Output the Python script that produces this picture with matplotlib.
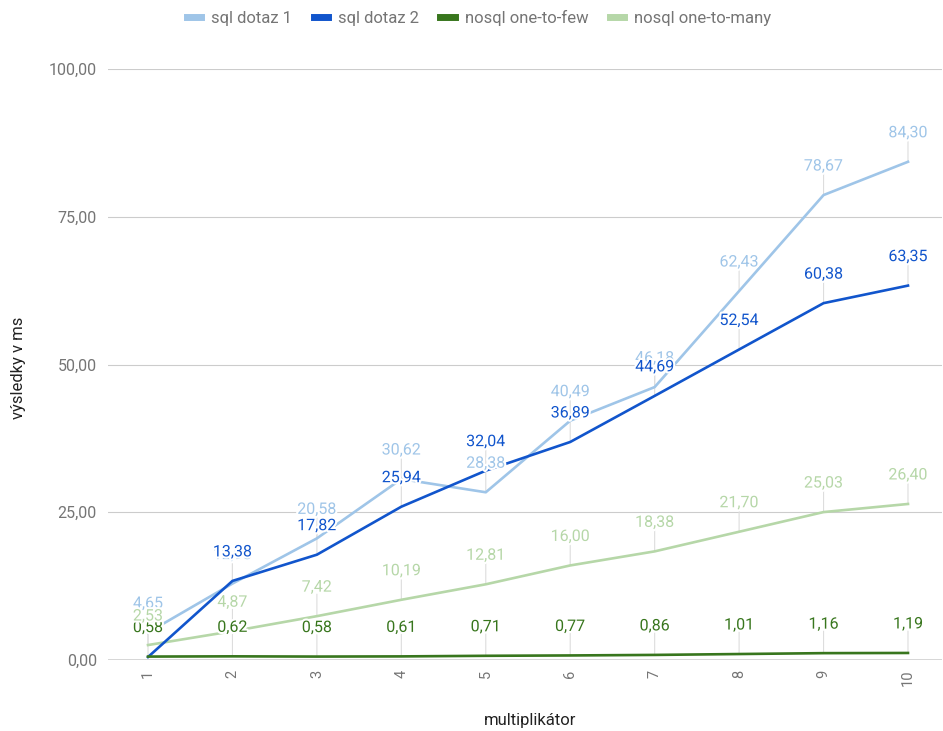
import matplotlib
matplotlib.use("Agg")
import matplotlib.pyplot as plt
from matplotlib.lines import Line2D
import matplotlib.patheffects as pe

plt.rcParams['font.family'] = ['Roboto', 'DejaVu Sans']

# Data
multiplier = [1, 2, 3, 4, 5, 6, 7, 8, 9, 10]
sql_dotaz_1 = [4.65, 12.93, 20.58, 30.62, 28.38, 40.49, 46.18, 62.43, 78.67, 84.30]
sql_dotaz_2 = [0.50, 13.38, 17.82, 25.94, 32.04, 36.89, 44.69, 52.54, 60.38, 63.35]
nosql_one_to_few = [0.58, 0.62, 0.58, 0.61, 0.71, 0.77, 0.86, 1.01, 1.16, 1.19]
nosql_one_to_many = [2.53, 4.87, 7.42, 10.19, 12.81, 16.00, 18.38, 21.70, 25.03, 26.40]

series_names = ["sql dotaz 1", "sql dotaz 2", "nosql one-to-few", "nosql one-to-many"]
series_values = [sql_dotaz_1, sql_dotaz_2, nosql_one_to_few, nosql_one_to_many]
series_colors = ["#9fc5e8", "#1155cc", "#38761d", "#b6d7a8"]
# which points carry a value annotation
series_show = [
    [True] * 10,
    [False] + [True] * 9,
    [True] * 10,
    [True] * 10,
]

y_ticks = [0, 25, 50, 75, 100]

W, H = 943, 731
fig = plt.figure(figsize=(W / 100, H / 100), dpi=100)
ax = fig.add_axes([108 / W, 1 - 660 / H, (942 - 108) / W, (660 - 69) / H])

ax.set_ylim(0, 100)
ax.set_xlim(1 - 40 / 84.44, 10 + 34 / 84.44)

# grid
for t in y_ticks:
    ax.axhline(t, color="#cccccc" if t else "#333333", lw=0.8 if t else 1.0, zorder=1)
for s in ax.spines.values():
    s.set_visible(False)

ax.set_yticks(y_ticks)
ax.set_yticklabels([f"{t:.2f}".replace(".", ",") for t in y_ticks])
ax.set_xticks(multiplier)
ax.set_xticklabels([str(m) for m in multiplier], rotation=90)
ax.tick_params(axis="y", length=0, pad=8, labelsize=11.5, labelcolor="#757575")
ax.tick_params(axis="x", length=0, pad=7, labelsize=10.5, labelcolor="#757575")

# lines
for vals, col, z in zip(series_values, series_colors, [3, 4, 5, 3.5]):
    ax.plot(multiplier, vals, color=col, lw=1.9, zorder=z, solid_joinstyle="round")

# value annotations with stems
offset_px = 29
for vals, col, show in zip(series_values, series_colors, series_show):
    for x, v, s in zip(multiplier, vals, show):
        if not s:
            continue
        ax.annotate(
            f"{v:.2f}".replace(".", ","),
            xy=(x, v), xytext=(0, offset_px * 0.72), textcoords="offset points",
            ha="center", va="center", fontsize=11.5, color=col, zorder=10,
            path_effects=[pe.withStroke(linewidth=3, foreground="white")],
        )
        ax.annotate(
            "", xy=(x, v), xytext=(0, (offset_px - 7) * 0.72), textcoords="offset points",
            arrowprops=dict(arrowstyle="-", color="#dddddd", lw=0.8, shrinkA=0, shrinkB=0),
            zorder=2,
        )

# axis titles
fig.text(530 / W, 1 - 720 / H, "multiplikátor", ha="center", va="center",
         fontsize=12, color="#222222")
fig.text(19 / W, 1 - 368 / H, "výsledky v ms", ha="center", va="center",
         rotation=90, fontsize=12, color="#222222")

# legend
handles = [Line2D([0], [0], color=c, lw=5) for c in series_colors]
fig.legend(handles, series_names, loc="center", bbox_to_anchor=(479 / W, 1 - 18 / H),
           ncol=4, frameon=False, fontsize=12, labelcolor="#757575",
           handlelength=0.85, handletextpad=0.6, columnspacing=1.3)

fig.savefig("out.png", dpi=100)
